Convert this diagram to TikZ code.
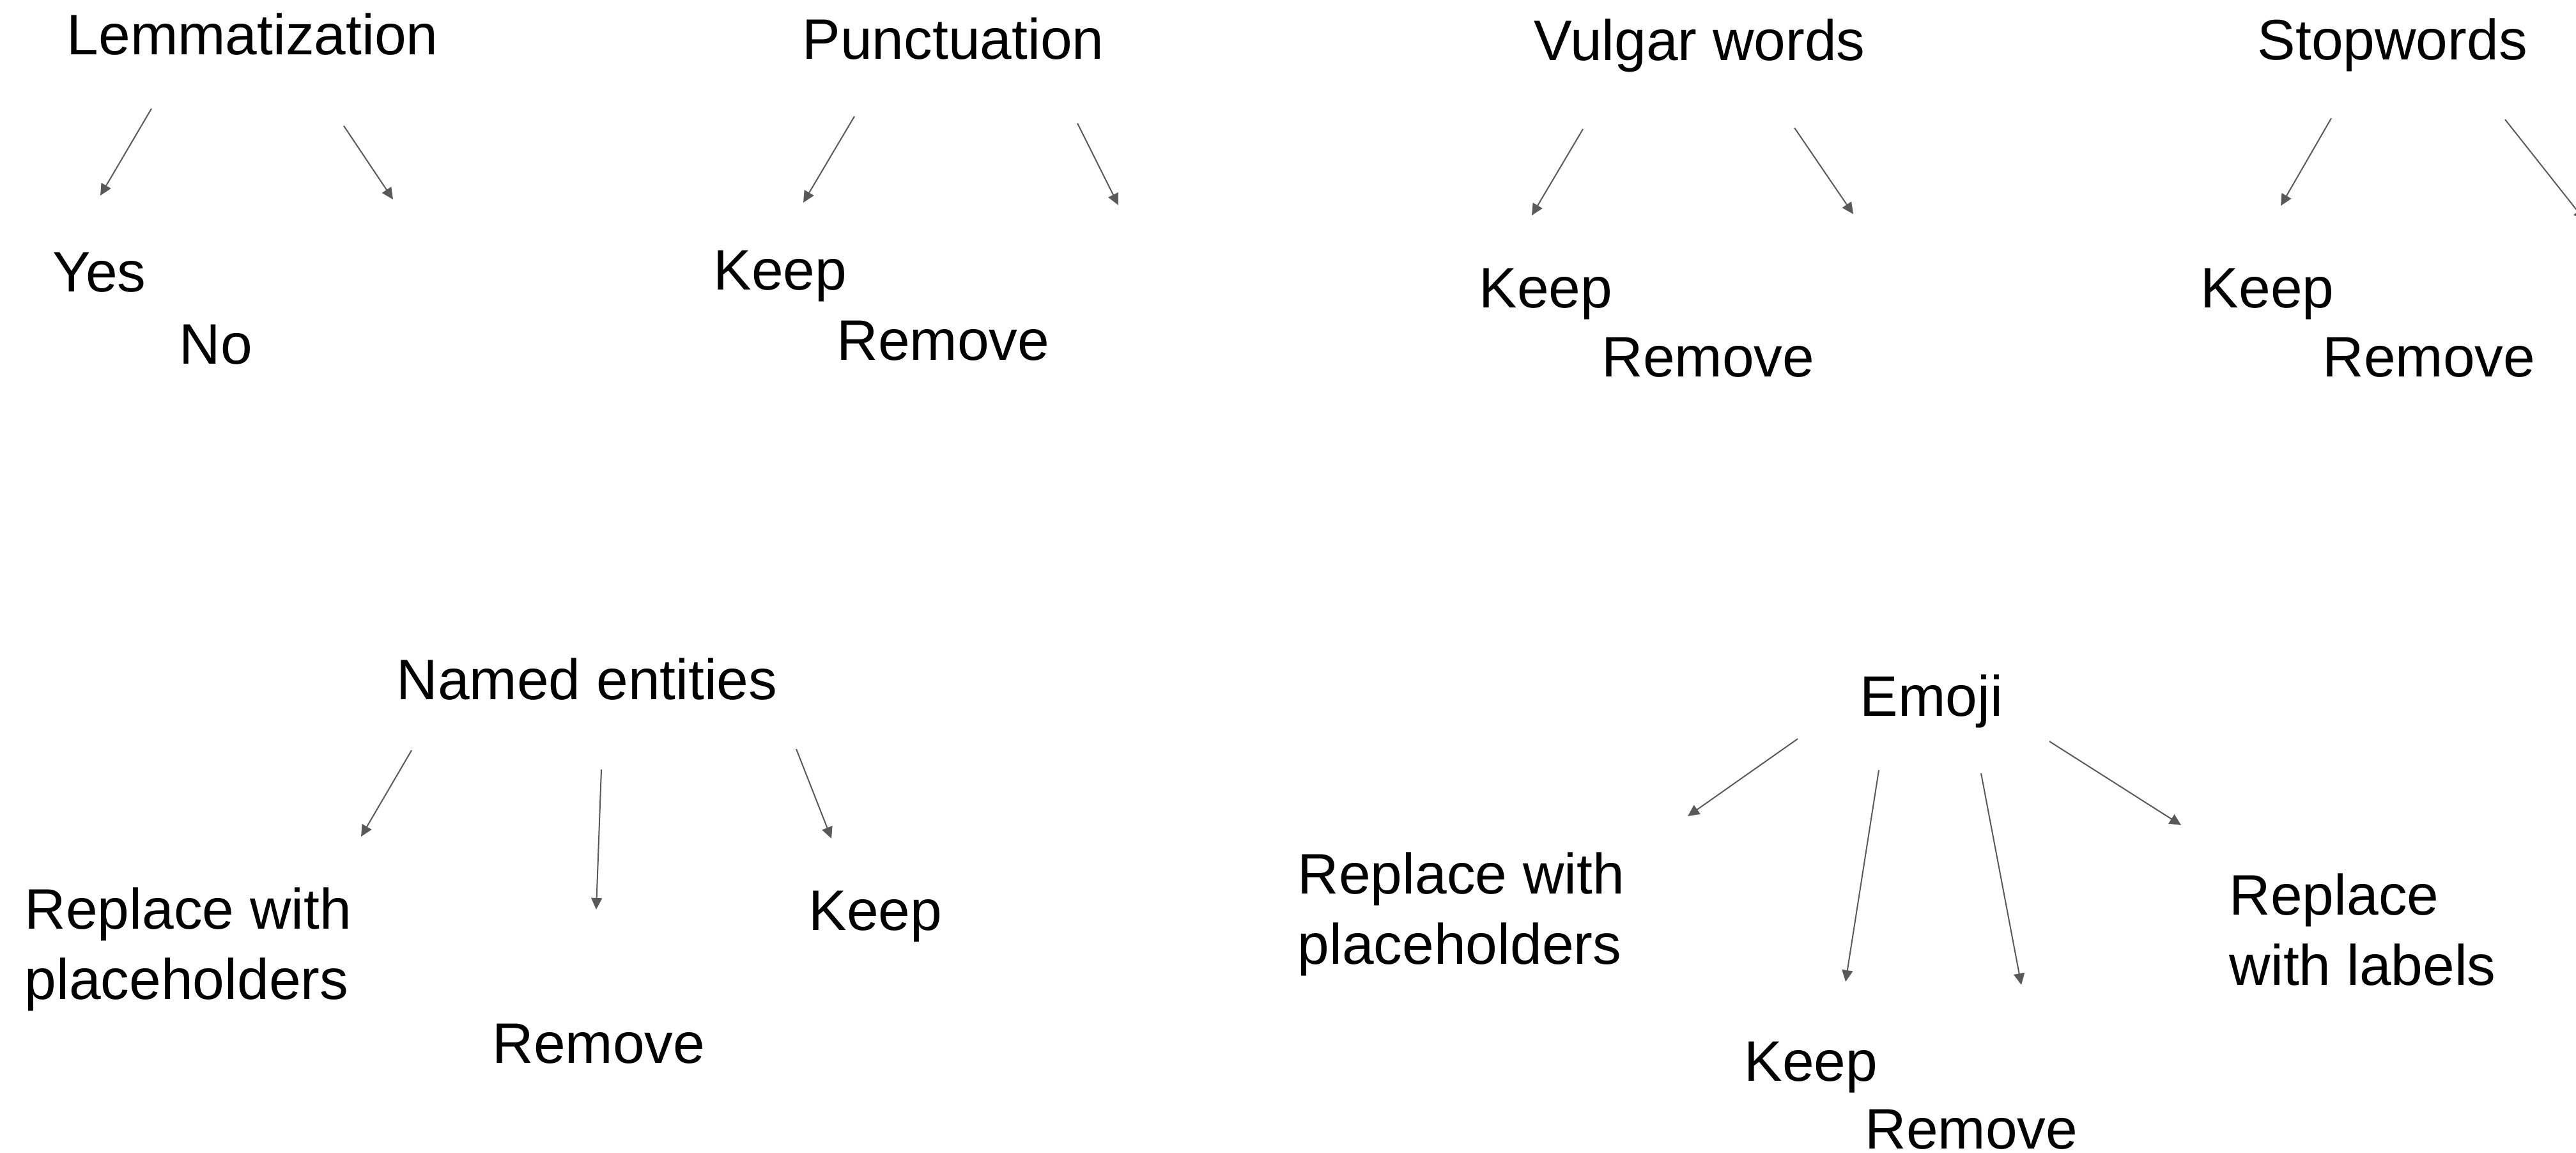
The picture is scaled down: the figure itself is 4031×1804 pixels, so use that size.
\documentclass[tikz,border=0pt]{standalone}
\usepackage{fontspec}
\setmainfont{Liberation Sans}
\usetikzlibrary{arrows.meta,positioning}
\definecolor{arrowgray}{HTML}{595959}

\begin{document}
\begin{tikzpicture}[x=0.01cm,y=-0.01cm,
   every node/.style={inner sep=0pt,anchor=base west,font=\fontsize{25.4}{31}\selectfont},
   twoline/.style={align=left},
   >={Triangle[length=0.18cm,width=0.17cm]},
   link/.style={->,draw=arrowgray,fill=arrowgray,line width=0.02cm}]
   \useasboundingbox (0,0) rectangle (4031,1804);
   % top row
   \node (lemma) at (104,86) {Lemmatization};
   \node (lemma_yes) at (82,457) {Yes};
   \node (lemma_no) at (280,570) {No};
   \node (punct) at (1255,93) {Punctuation};
   \node (punct_keep) at (1116,454) {Keep};
   \node (punct_rm) at (1309,564) {Remove};
   \node (vulgar) at (2400,95) {Vulgar words};
   \node (vulgar_keep) at (2314,482) {Keep};
   \node (vulgar_rm) at (2506,590) {Remove};
   \node (stop) at (3532,94) {Stopwords};
   \node (stop_keep) at (3443,482) {Keep};
   \node (stop_rm) at (3634,590) {Remove};
   % bottom row (two-line labels sit on their last line)
   \node (ner) at (620,1094) {Named entities};
   \node[twoline] (ner_ph) at (38,1563) {Replace with\\placeholders};
   \node (ner_rm) at (770,1663) {Remove};
   \node (ner_keep) at (1265,1455) {Keep};
   \node (emoji) at (2910,1120) {Emoji};
   \node[twoline] (emoji_ph) at (2030,1508) {Replace with\\placeholders};
   \node (emoji_keep) at (2729,1691) {Keep};
   \node (emoji_rm) at (2918,1797) {Remove};
   \node[twoline] (emoji_lab) at (3488,1541) {Replace\\with labels};
   % arrow ends
   \coordinate (lemma_s1) at (237,170);  \coordinate (lemma_e1) at (157,306);
   \coordinate (lemma_s2) at (538,197);  \coordinate (lemma_e2) at (615,312);
   \coordinate (punct_s1) at (1337,182); \coordinate (punct_e1) at (1257,317);
   \coordinate (punct_s2) at (1686,193); \coordinate (punct_e2) at (1750,321);
   \coordinate (vulgar_s1) at (2477,202); \coordinate (vulgar_e1) at (2397,337);
   \coordinate (vulgar_s2) at (2808,200); \coordinate (vulgar_e2) at (2900,335);
   \coordinate (stop_s1) at (3648,185);  \coordinate (stop_e1) at (3569,322);
   \coordinate (stop_s2) at (3920,187);  \coordinate (stop_e2) at (4045,345);
   \coordinate (ner_s1) at (644,1174);   \coordinate (ner_e1) at (565,1309);
   \coordinate (ner_s2) at (941,1204);   \coordinate (ner_e2) at (933,1423);
   \coordinate (ner_s3) at (1246,1172);  \coordinate (ner_e3) at (1301,1312);
   \coordinate (emoji_s1) at (2813,1156); \coordinate (emoji_e1) at (2641,1277);
   \coordinate (emoji_s2) at (2940,1205); \coordinate (emoji_e2) at (2888,1536);
   \coordinate (emoji_s3) at (3100,1210); \coordinate (emoji_e3) at (3163,1541);
   \coordinate (emoji_s4) at (3207,1160); \coordinate (emoji_e4) at (3413,1291);
   \path
   (lemma_s1) edge[link] (lemma_e1)
   (lemma_s2) edge[link] (lemma_e2)
   (punct_s1) edge[link] (punct_e1)
   (punct_s2) edge[link] (punct_e2)
   (vulgar_s1) edge[link] (vulgar_e1)
   (vulgar_s2) edge[link] (vulgar_e2)
   (stop_s1) edge[link] (stop_e1)
   (stop_s2) edge[link] (stop_e2)
   (ner_s1) edge[link] (ner_e1)
   (ner_s2) edge[link] (ner_e2)
   (ner_s3) edge[link] (ner_e3)
   (emoji_s1) edge[link] (emoji_e1)
   (emoji_s2) edge[link] (emoji_e2)
   (emoji_s3) edge[link] (emoji_e3)
   (emoji_s4) edge[link] (emoji_e4);
\end{tikzpicture}
\end{document}
